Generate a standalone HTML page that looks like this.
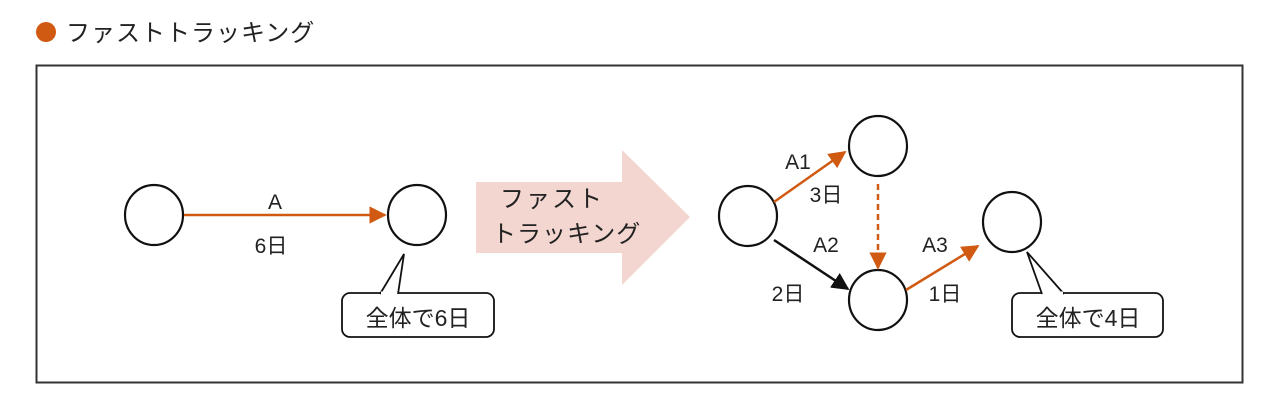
<!DOCTYPE html>
<html><head><meta charset="utf-8"><style>
html,body{margin:0;padding:0;background:#fff;}
svg text{font-family:"Liberation Sans","Noto Sans CJK JP",sans-serif;fill:#222;}
</style></head><body>
<svg width="1268" height="410" viewBox="0 0 1268 410" xmlns="http://www.w3.org/2000/svg">
<defs>
<marker id="ao" viewBox="0 0 10 10" refX="9" refY="5" markerWidth="7" markerHeight="7" orient="auto"><path d="M0,0 L10,5 L0,10z" fill="#d05a12"/></marker>
<marker id="ak" viewBox="0 0 10 10" refX="9" refY="5" markerWidth="7" markerHeight="7" orient="auto"><path d="M0,0 L10,5 L0,10z" fill="#111"/></marker>
</defs>
<circle cx="46" cy="32" r="10" fill="#d05a12"/>
<text x="66" y="41" font-size="24" letter-spacing="1">ファストトラッキング</text>
<rect x="36.5" y="65.5" width="1206" height="317" fill="none" stroke="#333" stroke-width="2"/>
<g fill="#fff" stroke="#111" stroke-width="2.2">
<ellipse cx="154" cy="215" rx="29" ry="30"/>
<ellipse cx="417" cy="215" rx="29" ry="30"/>
</g>
<line x1="184" y1="215" x2="385" y2="215" stroke="#d05a12" stroke-width="2.5" marker-end="url(#ao)"/>
<text x="275" y="209" font-size="21" text-anchor="middle">A</text>
<text x="271" y="253" font-size="21" text-anchor="middle">6日</text>
<path d="M350,293 H486 a8,8 0 0 1 8,8 V329 a8,8 0 0 1 -8,8 H350 a8,8 0 0 1 -8,-8 V301 a8,8 0 0 1 8,-8z" fill="#fff" stroke="#111" stroke-width="1.8"/>
<path d="M380,294 L404,254 L398,294" fill="#fff" stroke="#111" stroke-width="1.8"/>
<line x1="381" y1="293" x2="397" y2="293" stroke="#fff" stroke-width="3"/>
<text x="418" y="326" font-size="23" text-anchor="middle">全体で6日</text>
<path d="M476,182 H622 V150 L690,217 L622,285 V253 H476z" fill="#f2d6cf"/>
<text x="500" y="207" font-size="24" letter-spacing="2">ファスト</text>
<text x="492" y="242" font-size="24" letter-spacing="1">トラッキング</text>
<g fill="#fff" stroke="#111" stroke-width="2.2">
<ellipse cx="748" cy="216" rx="29" ry="30"/>
<ellipse cx="878" cy="146" rx="29" ry="30"/>
<ellipse cx="878" cy="300" rx="29" ry="30"/>
<ellipse cx="1012" cy="222" rx="29" ry="30"/>
</g>
<line x1="774" y1="202" x2="845" y2="152" stroke="#d05a12" stroke-width="2.5" marker-end="url(#ao)"/>
<line x1="774" y1="240" x2="848" y2="289" stroke="#111" stroke-width="2.5" marker-end="url(#ak)"/>
<line x1="878" y1="184" x2="878" y2="268" stroke="#d05a12" stroke-width="2.5" stroke-dasharray="6,4" marker-end="url(#ao)"/>
<line x1="906" y1="290" x2="978" y2="246" stroke="#d05a12" stroke-width="2.5" marker-end="url(#ao)"/>
<text x="798" y="169" font-size="21" text-anchor="middle">A1</text>
<text x="826" y="202" font-size="21" text-anchor="middle">3日</text>
<text x="826" y="252" font-size="21" text-anchor="middle">A2</text>
<text x="788" y="301" font-size="21" text-anchor="middle">2日</text>
<text x="935" y="252" font-size="21" text-anchor="middle">A3</text>
<text x="945" y="301" font-size="21" text-anchor="middle">1日</text>
<path d="M1020,293 H1155 a8,8 0 0 1 8,8 V329 a8,8 0 0 1 -8,8 H1020 a8,8 0 0 1 -8,-8 V301 a8,8 0 0 1 8,-8z" fill="#fff" stroke="#111" stroke-width="1.8"/>
<path d="M1042,294 L1027,252 L1064,294" fill="#fff" stroke="#111" stroke-width="1.8"/>
<line x1="1043" y1="293" x2="1063" y2="293" stroke="#fff" stroke-width="3"/>
<text x="1088" y="326" font-size="23" text-anchor="middle">全体で4日</text>
</svg>
</body></html>
